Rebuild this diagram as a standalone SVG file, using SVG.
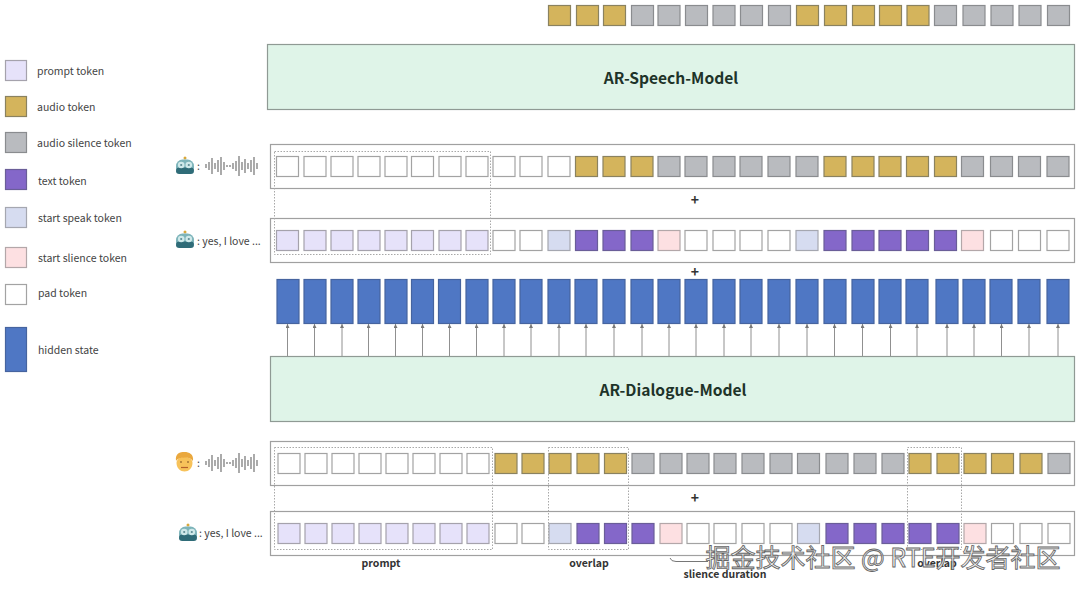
<svg xmlns="http://www.w3.org/2000/svg" xmlns:xlink="http://www.w3.org/1999/xlink" width="1080" height="589" viewBox="0 0 1080 589">
<style>
text{font-family:"Noto Sans CJK SC","Noto Sans",sans-serif;fill:#444}
.l{font-size:10.5px}
.b{font-size:10.5px;font-weight:700;fill:#333}
.m{font-size:15.6px;font-weight:700;fill:#1e3329;text-anchor:middle}
.c{text-anchor:middle}
.p{font-size:14px;font-weight:700;fill:#333;text-anchor:middle}
rect{stroke-width:1.2}
.model{fill:#dff4e8;stroke:#8f9a94}
.row{fill:#fff;stroke:#a0a0a0}
.dot{fill:none;stroke:#a8a8a8;stroke-width:1;stroke-dasharray:1.5 1.5}
.P{fill:#e6e2fa;stroke:#a5a2ac}
.A{fill:#d4b45c;stroke:#8a8260}
.G{fill:#b9bbbf;stroke:#8a8c8f}
.T{fill:#8467c9;stroke:#6a5e98}
.S{fill:#d6dcf0;stroke:#a5a7b0}
.N{fill:#fde0e2;stroke:#b3a7a9}
.W{fill:#fff;stroke:#a3a3a3}
.H{fill:#4f77c4;stroke:#46649f}
.arr{stroke:#909090;stroke-width:1;fill:none;marker-end:url(#ah)}
.wm{font-size:25px;fill:#efefef;fill-opacity:.85;stroke:#666;stroke-width:.85}
</style>
<defs>
<marker id="ah" markerWidth="5" markerHeight="5" refX="4" refY="2" orient="auto" markerUnits="userSpaceOnUse"><path d="M0,0L4,2L0,4z" fill="#777"/></marker>
<g id="robot">
<circle cx="0" cy="-8" r="1.5" fill="#d9a83c"/>
<rect x="-9" y="-6.500" width="18" height="14.500" rx="6.500" fill="#7db4ba" stroke="none"/>
<rect x="-9" y="1.500" width="18" height="6.500" rx="3.200" fill="#2f6c78" stroke="none"/>
<circle cx="-3.800" cy="-1" r="3.300" fill="#cfe9ea"/><circle cx="3.800" cy="-1" r="3.300" fill="#cfe9ea"/>
<circle cx="-3.800" cy="-1" r="1.100" fill="#5c8b93"/><circle cx="3.800" cy="-1" r="1.100" fill="#5c8b93"/>
</g>
<path id="wave" fill="none" stroke="#666" stroke-width="1.100" d="M1,-2V2M4,-4V4M7,-8V8M10,-3V3M13,-6V6M16,-9V9M19,-4V4M22,-1V1M25,-1V1M28,-3V3M31,-5V5M34,-10V10M37,-4V4M40,-7V7M43,-3V3M46,-6V6M49,-9V9M52,-3V3"/>
</defs>

<rect width="1080" height="589" fill="#fff" stroke="none"/>

<g id="legend">
<g id="legend-prompt"><rect class="P" x="5.500" y="60.500" width="21" height="20"/><text class="l" x="37" y="75">prompt token</text></g>
<g id="legend-audio"><rect class="A" x="5.500" y="96.500" width="21" height="20"/><text class="l" x="37" y="111">audio token</text></g>
<g id="legend-silence"><rect class="G" x="5.500" y="132.500" width="21" height="20"/><text class="l" x="37" y="147">audio silence token</text></g>
<g id="legend-text"><rect class="T" x="5.500" y="169.500" width="21" height="20"/><text class="l" x="38" y="185">text token</text></g>
<g id="legend-speak"><rect class="S" x="5.500" y="207.500" width="21" height="20"/><text class="l" x="38" y="222">start speak token</text></g>
<g id="legend-slience"><rect class="N" x="5.500" y="247.500" width="21" height="20"/><text class="l" x="38" y="262">start slience token</text></g>
<g id="legend-pad"><rect class="W" x="5.500" y="284.500" width="21" height="20"/><text class="l" x="38" y="297">pad token</text></g>
<g id="legend-hidden"><rect class="H" x="5.500" y="327.500" width="21" height="44"/><text class="l" x="38" y="354">hidden state</text></g>
</g>

<g id="output-row">
<rect class="A" x="548.500" y="5.500" width="22" height="20"/><rect class="A" x="576.500" y="5.500" width="22" height="20"/><rect class="A" x="603.500" y="5.500" width="22" height="20"/>
<rect class="G" x="631.500" y="5.500" width="22" height="20"/><rect class="G" x="658" y="5.500" width="22" height="20"/><rect class="G" x="685.500" y="5.500" width="22" height="20"/><rect class="G" x="713" y="5.500" width="22" height="20"/><rect class="G" x="740.500" y="5.500" width="22" height="20"/><rect class="G" x="768.500" y="5.500" width="22" height="20"/>
<rect class="A" x="796.500" y="5.500" width="22" height="20"/><rect class="A" x="824.500" y="5.500" width="22" height="20"/><rect class="A" x="852.500" y="5.500" width="22" height="20"/><rect class="A" x="879.500" y="5.500" width="22" height="20"/><rect class="A" x="907" y="5.500" width="22" height="20"/>
<rect class="G" x="934.500" y="5.500" width="22" height="20"/><rect class="G" x="963" y="5.500" width="22" height="20"/><rect class="G" x="991" y="5.500" width="22" height="20"/><rect class="G" x="1019" y="5.500" width="22" height="20"/><rect class="G" x="1047.500" y="5.500" width="22" height="20"/>
</g>

<g id="ar-speech-model"><rect class="model" x="267.500" y="44.500" width="807" height="65"/><text class="m" x="671" y="84">AR-Speech-Model</text></g>

<g id="speaker-audio-1">
<use href="#robot" x="185" y="166"/><text class="l" x="197" y="170">:</text><use href="#wave" x="205" y="166"/>
</g>
<g id="row-audio-1">
<rect class="row" x="270.500" y="144.500" width="804" height="44"/>
<rect class="W" x="276.500" y="156.500" width="22" height="20"/><rect class="W" x="304" y="156.500" width="22" height="20"/><rect class="W" x="331" y="156.500" width="22" height="20"/><rect class="W" x="358" y="156.500" width="22" height="20"/><rect class="W" x="385" y="156.500" width="22" height="20"/><rect class="W" x="411.500" y="156.500" width="22" height="20"/><rect class="W" x="439" y="156.500" width="22" height="20"/><rect class="W" x="466" y="156.500" width="22" height="20"/><rect class="W" x="493" y="156.500" width="22" height="20"/><rect class="W" x="520" y="156.500" width="22" height="20"/><rect class="W" x="548" y="156.500" width="22" height="20"/>
<rect class="A" x="575.500" y="156.500" width="22" height="20"/><rect class="A" x="603" y="156.500" width="22" height="20"/><rect class="A" x="631" y="156.500" width="22" height="20"/>
<rect class="G" x="658" y="156.500" width="22" height="20"/><rect class="G" x="685" y="156.500" width="22" height="20"/><rect class="G" x="713" y="156.500" width="22" height="20"/><rect class="G" x="740" y="156.500" width="22" height="20"/><rect class="G" x="768" y="156.500" width="22" height="20"/><rect class="G" x="796" y="156.500" width="22" height="20"/>
<rect class="A" x="824" y="156.500" width="22" height="20"/><rect class="A" x="852" y="156.500" width="22" height="20"/><rect class="A" x="879" y="156.500" width="22" height="20"/><rect class="A" x="906.500" y="156.500" width="22" height="20"/><rect class="A" x="934.500" y="156.500" width="22" height="20"/>
<rect class="G" x="961.500" y="156.500" width="22" height="20"/><rect class="G" x="990.500" y="156.500" width="22" height="20"/><rect class="G" x="1018.500" y="156.500" width="22" height="20"/><rect class="G" x="1047" y="156.500" width="22" height="20"/>
</g>
<text class="p" x="695" y="205">+</text>

<g id="speaker-text-1">
<use href="#robot" x="185" y="240"/><text class="l" x="197" y="245">: yes, I love ...</text>
</g>
<g id="row-text-1">
<rect class="row" x="270.500" y="218.500" width="804" height="44"/>
<rect class="P" x="276.500" y="230.500" width="22" height="20"/><rect class="P" x="304" y="230.500" width="22" height="20"/><rect class="P" x="331" y="230.500" width="22" height="20"/><rect class="P" x="358" y="230.500" width="22" height="20"/><rect class="P" x="385" y="230.500" width="22" height="20"/><rect class="P" x="411.500" y="230.500" width="22" height="20"/><rect class="P" x="439" y="230.500" width="22" height="20"/><rect class="P" x="466" y="230.500" width="22" height="20"/>
<rect class="W" x="493" y="230.500" width="22" height="20"/><rect class="W" x="520" y="230.500" width="22" height="20"/>
<rect class="S" x="548" y="230.500" width="22" height="20"/>
<rect class="T" x="575.500" y="230.500" width="22" height="20"/><rect class="T" x="603" y="230.500" width="22" height="20"/><rect class="T" x="631" y="230.500" width="22" height="20"/>
<rect class="N" x="658" y="230.500" width="22" height="20"/>
<rect class="W" x="685" y="230.500" width="22" height="20"/><rect class="W" x="713" y="230.500" width="22" height="20"/><rect class="W" x="740" y="230.500" width="22" height="20"/><rect class="W" x="768" y="230.500" width="22" height="20"/>
<rect class="S" x="796" y="230.500" width="22" height="20"/>
<rect class="T" x="824" y="230.500" width="22" height="20"/><rect class="T" x="852" y="230.500" width="22" height="20"/><rect class="T" x="879" y="230.500" width="22" height="20"/><rect class="T" x="906.500" y="230.500" width="22" height="20"/><rect class="T" x="934.500" y="230.500" width="22" height="20"/>
<rect class="N" x="961.500" y="230.500" width="22" height="20"/>
<rect class="W" x="990.500" y="230.500" width="22" height="20"/><rect class="W" x="1018.500" y="230.500" width="22" height="20"/><rect class="W" x="1047" y="230.500" width="22" height="20"/>
</g>
<rect class="dot" x="274.500" y="151.500" width="216" height="103"/>
<text class="p" x="695" y="277">+</text>

<g id="hidden-states">
<rect class="H" x="277" y="279.500" width="22" height="44"/><rect class="H" x="304" y="279.500" width="22" height="44"/><rect class="H" x="331" y="279.500" width="22" height="44"/><rect class="H" x="358" y="279.500" width="22" height="44"/><rect class="H" x="385" y="279.500" width="22" height="44"/><rect class="H" x="411.500" y="279.500" width="22" height="44"/><rect class="H" x="438.500" y="279.500" width="22" height="44"/><rect class="H" x="466" y="279.500" width="22" height="44"/><rect class="H" x="493" y="279.500" width="22" height="44"/><rect class="H" x="520" y="279.500" width="22" height="44"/><rect class="H" x="548" y="279.500" width="22" height="44"/><rect class="H" x="575" y="279.500" width="22" height="44"/><rect class="H" x="603" y="279.500" width="22" height="44"/><rect class="H" x="631" y="279.500" width="22" height="44"/><rect class="H" x="658" y="279.500" width="22" height="44"/><rect class="H" x="685" y="279.500" width="22" height="44"/><rect class="H" x="713" y="279.500" width="22" height="44"/><rect class="H" x="740" y="279.500" width="22" height="44"/><rect class="H" x="768" y="279.500" width="22" height="44"/><rect class="H" x="796" y="279.500" width="22" height="44"/><rect class="H" x="824" y="279.500" width="22" height="44"/><rect class="H" x="852" y="279.500" width="22" height="44"/><rect class="H" x="879" y="279.500" width="22" height="44"/><rect class="H" x="906" y="279.500" width="22" height="44"/><rect class="H" x="936" y="279.500" width="22" height="44"/><rect class="H" x="963" y="279.500" width="22" height="44"/><rect class="H" x="990" y="279.500" width="22" height="44"/><rect class="H" x="1018" y="279.500" width="22" height="44"/><rect class="H" x="1047" y="279.500" width="22" height="44"/>
</g>

<g id="connectors">
<path class="arr" d="M287.500,356V324"/><path class="arr" d="M314.500,356V324"/><path class="arr" d="M342,356V324"/><path class="arr" d="M368.500,356V324"/><path class="arr" d="M395.500,356V324"/><path class="arr" d="M422.500,356V324"/><path class="arr" d="M449.500,356V324"/><path class="arr" d="M476.500,356V324"/><path class="arr" d="M504,356V324"/><path class="arr" d="M531,356V324"/><path class="arr" d="M559,356V324"/><path class="arr" d="M586,356V324"/><path class="arr" d="M614,356V324"/><path class="arr" d="M642,356V324"/><path class="arr" d="M669,356V324"/><path class="arr" d="M696,356V324"/><path class="arr" d="M724,356V324"/><path class="arr" d="M751,356V324"/><path class="arr" d="M779,356V324"/><path class="arr" d="M807,356V324"/><path class="arr" d="M834.500,356V324"/><path class="arr" d="M862.500,356V324"/><path class="arr" d="M890.500,356V324"/><path class="arr" d="M917,356V324"/><path class="arr" d="M947,356V324"/><path class="arr" d="M974,356V324"/><path class="arr" d="M1001.500,356V324"/><path class="arr" d="M1029,356V324"/><path class="arr" d="M1058,356V324"/>
<path d="M670,558Q671,561.500 676,561.500H708" fill="none" stroke="#777" stroke-width="1"/>
</g>

<g id="ar-dialogue-model"><rect class="model" x="270.500" y="356.500" width="804" height="65"/><text class="m" x="673" y="396">AR-Dialogue-Model</text></g>

<g id="speaker-audio-2">
<g id="man">
<path d="M176.500,463C176.500,455 192.500,455 192.500,463C192.500,468 188.500,471.500 184.500,471.500C180.500,471.500 176.500,468 176.500,463Z" fill="#f7c25a"/>
<path d="M176,461C175,453 180,452 184.500,452C189,452 194,454 193,461C191,458 187,457 184.500,457.500C181,458 178,458 176,461Z" fill="#eaa83e"/>
<path d="M181,467.500H188" stroke="#b5602a" stroke-width="1.200" fill="none"/>
<circle cx="181" cy="462" r=".8" fill="#6b3f1a"/><circle cx="188" cy="462" r=".8" fill="#6b3f1a"/>
</g>
<text class="l" x="197" y="467">:</text><use href="#wave" x="205" y="463"/>
</g>
<g id="row-audio-2">
<rect class="row" x="270.500" y="441.500" width="804" height="44"/>
<rect class="W" x="278" y="453.500" width="22" height="20"/><rect class="W" x="305" y="453.500" width="22" height="20"/><rect class="W" x="332" y="453.500" width="22" height="20"/><rect class="W" x="359" y="453.500" width="22" height="20"/><rect class="W" x="386" y="453.500" width="22" height="20"/><rect class="W" x="413" y="453.500" width="22" height="20"/><rect class="W" x="440" y="453.500" width="22" height="20"/><rect class="W" x="467" y="453.500" width="22" height="20"/>
<rect class="A" x="495" y="453.500" width="22" height="20"/><rect class="A" x="522" y="453.500" width="22" height="20"/><rect class="A" x="549" y="453.500" width="22" height="20"/><rect class="A" x="577" y="453.500" width="22" height="20"/><rect class="A" x="604.500" y="453.500" width="22" height="20"/>
<rect class="G" x="632" y="453.500" width="22" height="20"/><rect class="G" x="660" y="453.500" width="22" height="20"/><rect class="G" x="687" y="453.500" width="22" height="20"/><rect class="G" x="714" y="453.500" width="22" height="20"/><rect class="G" x="742" y="453.500" width="22" height="20"/><rect class="G" x="770" y="453.500" width="22" height="20"/><rect class="G" x="797.500" y="453.500" width="22" height="20"/><rect class="G" x="826" y="453.500" width="22" height="20"/><rect class="G" x="854" y="453.500" width="22" height="20"/><rect class="G" x="882" y="453.500" width="22" height="20"/>
<rect class="A" x="909" y="453.500" width="22" height="20"/><rect class="A" x="937" y="453.500" width="22" height="20"/><rect class="A" x="964" y="453.500" width="22" height="20"/><rect class="A" x="991.500" y="453.500" width="22" height="20"/><rect class="A" x="1020" y="453.500" width="22" height="20"/>
<rect class="G" x="1048" y="453.500" width="22" height="20"/>
</g>
<text class="p" x="695" y="503">+</text>

<g id="speaker-text-2">
<use href="#robot" x="188" y="533"/><text class="l" x="199" y="537">: yes, I love ...</text>
</g>
<g id="row-text-2">
<rect class="row" x="270.500" y="511.500" width="804" height="44"/>
<rect class="P" x="278" y="523.500" width="22" height="20"/><rect class="P" x="305" y="523.500" width="22" height="20"/><rect class="P" x="332" y="523.500" width="22" height="20"/><rect class="P" x="359" y="523.500" width="22" height="20"/><rect class="P" x="386" y="523.500" width="22" height="20"/><rect class="P" x="413" y="523.500" width="22" height="20"/><rect class="P" x="440" y="523.500" width="22" height="20"/><rect class="P" x="467" y="523.500" width="22" height="20"/>
<rect class="W" x="495" y="523.500" width="22" height="20"/><rect class="W" x="522" y="523.500" width="22" height="20"/>
<rect class="S" x="549" y="523.500" width="22" height="20"/>
<rect class="T" x="577" y="523.500" width="22" height="20"/><rect class="T" x="604.500" y="523.500" width="22" height="20"/><rect class="T" x="632" y="523.500" width="22" height="20"/>
<rect class="N" x="660" y="523.500" width="22" height="20"/>
<rect class="W" x="687" y="523.500" width="22" height="20"/><rect class="W" x="714" y="523.500" width="22" height="20"/><rect class="W" x="742" y="523.500" width="22" height="20"/><rect class="W" x="770" y="523.500" width="22" height="20"/>
<rect class="S" x="797.500" y="523.500" width="22" height="20"/>
<rect class="T" x="826" y="523.500" width="22" height="20"/><rect class="T" x="854" y="523.500" width="22" height="20"/><rect class="T" x="882" y="523.500" width="22" height="20"/><rect class="T" x="909" y="523.500" width="22" height="20"/><rect class="T" x="937" y="523.500" width="22" height="20"/>
<rect class="N" x="964" y="523.500" width="22" height="20"/>
<rect class="W" x="991.500" y="523.500" width="22" height="20"/><rect class="W" x="1020" y="523.500" width="22" height="20"/><rect class="W" x="1048" y="523.500" width="22" height="20"/>
</g>
<rect class="dot" x="274.500" y="447.500" width="218" height="102"/>
<rect class="dot" x="548.500" y="447.500" width="80" height="102"/>
<rect class="dot" x="907.500" y="447.500" width="54" height="102"/>

<g id="labels">
<text class="b c" x="381" y="567">prompt</text>
<text class="b c" x="589" y="567">overlap</text>
<text class="b c" x="937" y="567">overlap</text>
<text class="b c" x="725" y="578">slience duration</text>
</g>
<text class="wm" x="705.500" y="566.500">掘金技术社区 @ RTE开发者社区</text>
</svg>
